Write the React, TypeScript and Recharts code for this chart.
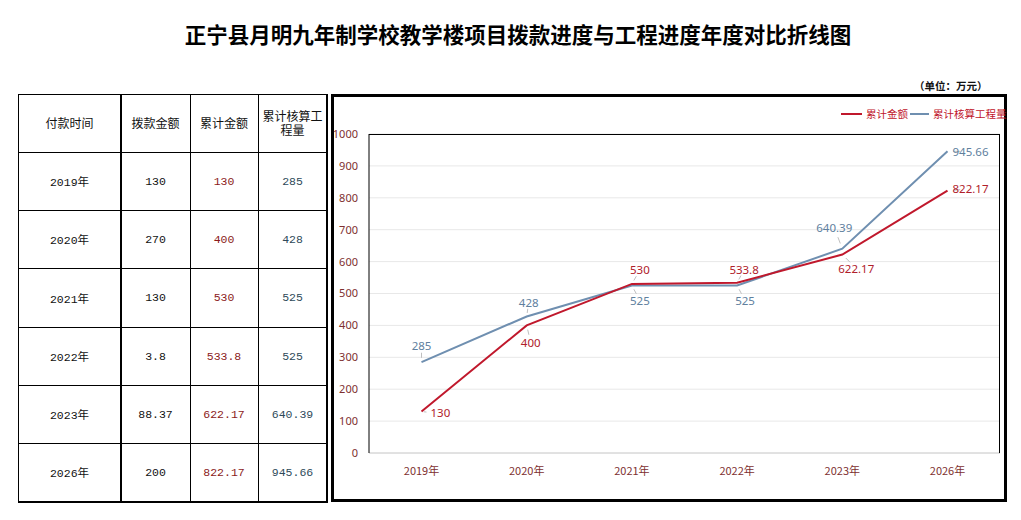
import React from 'react';
import { LineChart, Line, XAxis, YAxis, CartesianGrid, LabelList } from 'recharts';

const categories = ['2019年', '2020年', '2021年', '2022年', '2023年', '2026年'];
const allocation = [130, 270, 130, 3.8, 88.37, 200];
const cumulative = [130, 400, 530, 533.8, 622.17, 822.17];
const engineering = [285, 428, 525, 525, 640.39, 945.66];
const yTicks = [0, 100, 200, 300, 400, 500, 600, 700, 800, 900, 1000];

const TITLE = '正宁县月明九年制学校教学楼项目拨款进度与工程进度年度对比折线图';
const UNIT = '（单位：万元）';
const HEADERS = ['付款时间', '拨款金额', '累计金额', '累计核算工程量'];
const SERIES_NAMES = ['累计金额', '累计核算工程量'];

const RED = '#C0182C';
const BLUE = '#6F8FB0';
const RED_TEXT = '#B0202A';
const BLUE_TEXT = '#60809E';
const TICK = '#7E3030';

// label offsets (layout only)
const redOffsets = [[9, 1, 'start'], [4, 17, 'middle'], [8, -14, 'middle'], [7, -13, 'middle'], [14, 14, 'middle'], [23, -2, 'middle']];
const blueOffsets = [[0, -17, 'middle'], [2, -14, 'middle'], [8, 15, 'middle'], [8, 15, 'middle'], [-8, -21, 'middle'], [23, 0, 'middle']];

const data = categories.map((c, i) => ({ name: c, cumulative: cumulative[i], engineering: engineering[i] }));

const makeLabel = (offsets: any[], color: string) => (props: any) => {
  const { x, y, value, index } = props;
  const [dx, dy, anchor] = offsets[index];
  return (
    <g>
      <line x1={x + dx * 0.25} y1={y + dy * 0.25} x2={x + dx * 0.55} y2={y + dy * 0.55} stroke="#BFBFBF" strokeWidth={1} />
      <text x={x + dx} y={y + dy} textAnchor={anchor} dominantBaseline="central" fontSize={11.5} fill={color} fontFamily="'Noto Sans', sans-serif">
        {String(value)}
      </text>
    </g>
  );
};

const colEdges = [18, 121, 190, 258, 327];
const rowEdges = [94, 152, 210, 268, 327, 385, 443, 501];
const colColors = ['#111', '#111', '#8B1A1A', '#2E4A5A'];

function Table() {
  const cells: React.ReactNode[] = [];
  const rows = categories.map((c, i) => [c, String(allocation[i]), String(cumulative[i]), String(engineering[i])]);
  HEADERS.forEach((h, ci) => {
    cells.push(
      <div key={'h' + ci} style={{ position: 'absolute', left: colEdges[ci], top: rowEdges[0], width: colEdges[ci + 1] - colEdges[ci], height: rowEdges[1] - rowEdges[0], display: 'flex', alignItems: 'center', justifyContent: 'center', textAlign: 'center', fontSize: 12, lineHeight: '14px', fontFamily: "'Noto Sans CJK SC', sans-serif", fontWeight: 400, padding: '0 4px', boxSizing: 'border-box', color: '#111' }}>
        {h}
      </div>
    );
  });
  rows.forEach((r, ri) => {
    r.forEach((v, ci) => {
      cells.push(
        <div key={ri + '-' + ci} style={{ position: 'absolute', left: colEdges[ci], top: rowEdges[ri + 1], width: colEdges[ci + 1] - colEdges[ci], height: rowEdges[ri + 2] - rowEdges[ri + 1], display: 'flex', alignItems: 'center', justifyContent: 'center', fontSize: 11.5, fontFamily: "'Liberation Mono', 'Noto Sans CJK SC', monospace", color: colColors[ci] }}>
          {v}
        </div>
      );
    });
  });
  const lines: React.ReactNode[] = [];
  const vThick = [1, 2, 1, 1, 2];
  colEdges.forEach((x, i) => {
    lines.push(<div key={'v' + i} style={{ position: 'absolute', left: x - Math.floor(vThick[i] / 2), top: rowEdges[0], width: vThick[i], height: rowEdges[rowEdges.length - 1] - rowEdges[0] + 1, background: '#000' }} />);
  });
  rowEdges.forEach((y, i) => {
    const t = i === rowEdges.length - 1 ? 2 : 1;
    lines.push(<div key={'r' + i} style={{ position: 'absolute', left: colEdges[0], top: y, width: colEdges[4] - colEdges[0] + 1, height: t, background: '#000' }} />);
  });
  return <>{cells}{lines}</>;
}

export default function App() {
  return (
    <div style={{ position: 'absolute', left: 0, top: 0, width: 1021, height: 520, background: '#fff', overflow: 'hidden' }}>
      <div style={{ position: 'absolute', left: 0, top: 21, width: 1036, textAlign: 'center', fontSize: 21.5, fontWeight: 700, fontFamily: "'Noto Sans CJK SC', sans-serif", color: '#000', lineHeight: '26px' }}>
        {TITLE}
      </div>
      <div style={{ position: 'absolute', left: 914, top: 78, fontSize: 10.5, fontWeight: 700, fontFamily: "'Noto Sans CJK SC', sans-serif", color: '#111' }}>
        {UNIT}
      </div>
      <Table />
      <div style={{ position: 'absolute', left: 331, top: 94, width: 676, height: 408, border: '3px solid #000', boxSizing: 'border-box' }} />
      <div style={{ position: 'absolute', left: 332, top: 95, width: 676, height: 405 }}>
        <LineChart width={676} height={405} data={data} margin={{ top: 39, right: 8, left: 0, bottom: 0 }}>
          <CartesianGrid vertical={false} stroke="#E8E8E8" />
          <XAxis dataKey="name" height={47} padding={{ left: 52.5, right: 52.5 }} tickLine={false} axisLine={{ stroke: '#D0D0D0' }} tickMargin={8} tick={{ fontSize: 11, fill: TICK, fontFamily: "'Noto Sans CJK SC', sans-serif" }} interval={0} />
          <YAxis domain={[0, 1000]} ticks={yTicks} width={37} tickLine={false} axisLine={{ stroke: '#000' }} tickMargin={5} tick={{ fontSize: 11, fill: TICK, fontFamily: "'Noto Sans', sans-serif" }} interval={0} />
          <Line type="linear" dataKey="engineering" stroke={BLUE} strokeWidth={2} dot={false} isAnimationActive={false}>
            <LabelList dataKey="engineering" content={makeLabel(blueOffsets, BLUE_TEXT)} />
          </Line>
          <Line type="linear" dataKey="cumulative" stroke={RED} strokeWidth={2} dot={false} isAnimationActive={false}>
            <LabelList dataKey="cumulative" content={makeLabel(redOffsets, RED_TEXT)} />
          </Line>
        </LineChart>
      </div>
      <div style={{ position: 'absolute', left: 369, top: 134, width: 631, height: 319, borderTop: '1px solid #000', borderRight: '1px solid #000', boxSizing: 'border-box', pointerEvents: 'none' }} />
      <div style={{ position: 'absolute', left: 841, top: 106, display: 'flex', alignItems: 'center', fontSize: 10.5, fontFamily: "'Noto Sans CJK SC', sans-serif", color: '#C0142A', lineHeight: '16px', whiteSpace: 'nowrap' }}>
        <span style={{ display: 'inline-block', width: 21, height: 2, background: RED, marginRight: 4 }} />
        <span>{SERIES_NAMES[0]}</span>
        <span style={{ display: 'inline-block', width: 19, height: 2, background: BLUE, marginLeft: 2, marginRight: 4 }} />
        <span>{SERIES_NAMES[1]}</span>
      </div>
    </div>
  );
}
